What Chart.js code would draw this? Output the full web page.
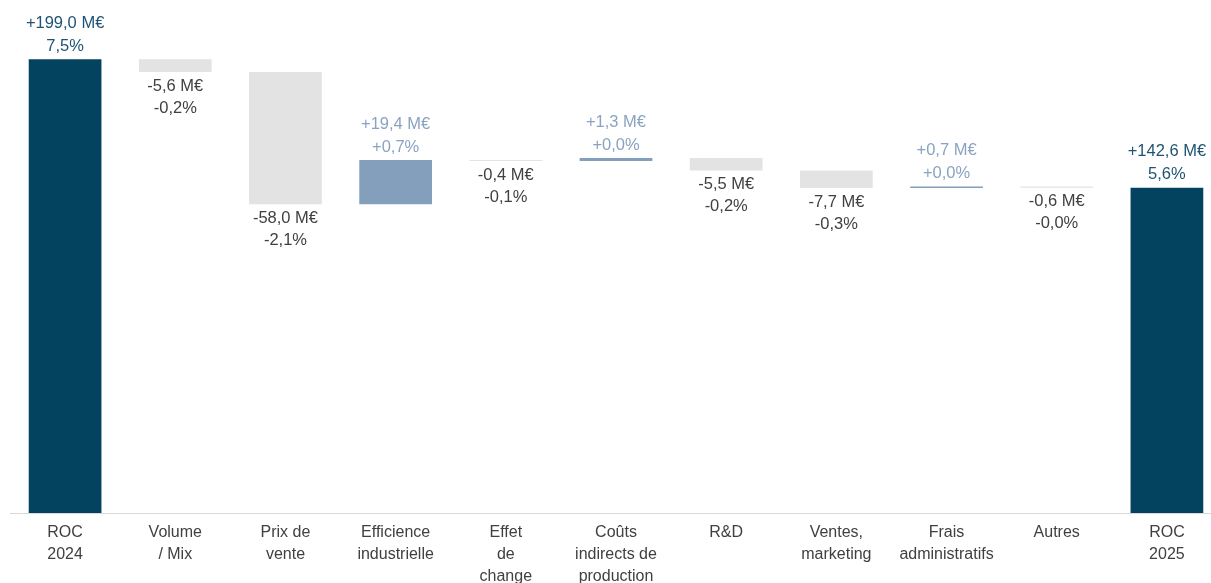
<!DOCTYPE html>
<html>
<head>
<meta charset="utf-8">
<script src="https://cdn.jsdelivr.net/npm/chart.js@4/dist/chart.umd.min.js"></script>
<style>
  html, body { margin: 0; padding: 0; background: #fff; overflow: hidden; }
  #wrap { width: 1222px; height: 583px; position: relative; }
</style>
</head>
<body>
<div id="wrap"><canvas id="myChart"></canvas></div>
<script>
// Données du pont ROC
var categories = [
    ['ROC', '2024'], ['Volume', '/ Mix'], ['Prix de', 'vente'], ['Efficience', 'industrielle'],
    ['Effet', 'de', 'change'], ['Coûts', 'indirects de', 'production'], 'R&D',
    ['Ventes,', 'marketing'], ['Frais', 'administratifs'], 'Autres', ['ROC', '2025']
];
var values = [199.0, -5.6, -58.0, 19.4, -0.4, 1.3, -5.5, -7.7, 0.7, -0.6, 142.6];
var pctLabels = ['7,5%', '-0,2%', '-2,1%', '+0,7%', '-0,1%', '+0,0%', '-0,2%', '-0,3%', '+0,0%', '-0,0%', '5,6%'];
var isTotal = [true, false, false, false, false, false, false, false, false, false, true];

// Couleurs
var cTotal = '#03435f', cPos = '#849fbc', cNeg = '#e3e3e3';
var tTotal = '#1f5373', tPos = '#8aa3c2', tNeg = '#404040';

// Barres flottantes [début, fin]
var floating = [];
var run = 0;
for (var i = 0; i < values.length; i++) {
    if (isTotal[i]) {
        floating.push([0, values[i]]);
        run = values[i];
    } else {
        floating.push([run, run + values[i]]);
        run += values[i];
    }
}
var barColors = values.map(function (v, i) {
    return isTotal[i] ? cTotal : (v >= 0 ? cPos : cNeg);
});

function fmt(v) {
    return (v >= 0 ? '+' : '-') + Math.abs(v).toFixed(1).replace('.', ',') + ' M€';
}

// Étiquettes de données
var labelPlugin = {
    id: 'waterfallLabels',
    afterDatasetsDraw: function (chart) {
        var ctx = chart.ctx;
        var meta = chart.getDatasetMeta(0);
        ctx.save();
        ctx.font = '16.5px "Liberation Sans", Arial, sans-serif';
        ctx.textAlign = 'center';
        ctx.textBaseline = 'middle';
        meta.data.forEach(function (bar, i) {
            var top = Math.min(bar.y, bar.base);
            var bottom = Math.max(bar.y, bar.base);
            var v = values[i];
            var l1 = fmt(v), l2 = pctLabels[i];
            if (isTotal[i] || v >= 0) {
                ctx.fillStyle = isTotal[i] ? tTotal : tPos;
                ctx.fillText(l1, bar.x, top - 36);
                ctx.fillText(l2, bar.x, top - 13);
            } else {
                ctx.fillStyle = tNeg;
                ctx.fillText(l1, bar.x, bottom + 14);
                ctx.fillText(l2, bar.x, bottom + 36);
            }
        });
        ctx.restore();
    }
};

var ctx = document.getElementById('myChart').getContext('2d');
var myChart = new Chart(ctx, {
    type: 'bar',
    data: {
        labels: categories,
        datasets: [{
            data: floating,
            backgroundColor: barColors,
            borderWidth: 0,
            borderSkipped: false,
            categoryPercentage: 1,
            barPercentage: 0.66
        }]
    },
    options: {
        responsive: true,
        maintainAspectRatio: false,
        animation: false,
        layout: { padding: { left: 10, right: 0, top: 0, bottom: 0 } },
        plugins: { legend: { display: false }, tooltip: { enabled: false } },
        scales: {
            x: {
                grid: { display: false },
                border: { display: true, color: '#d9d9d9', width: 1 },
                ticks: {
                    color: '#404040',
                    font: { family: '"Liberation Sans", Arial, sans-serif', size: 16, lineHeight: 1.375 },
                    maxRotation: 0,
                    autoSkip: false,
                    padding: 1
                },
                afterFit: function (scale) { scale.height = 70; }
            },
            y: {
                display: false,
                min: 0,
                max: 225
            }
        }
    },
    plugins: [labelPlugin]
});
</script>
</body>
</html>
